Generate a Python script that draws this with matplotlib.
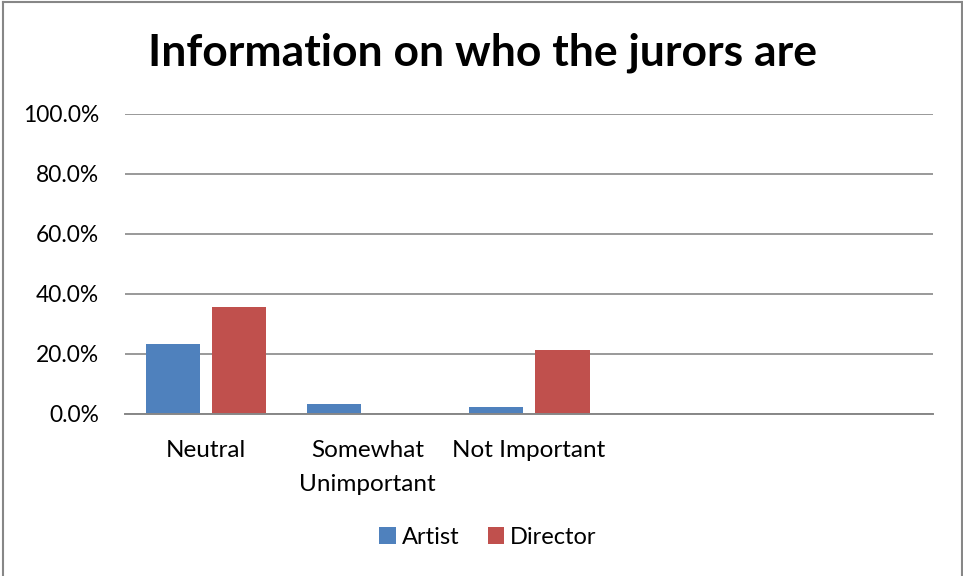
import numpy as np
import matplotlib
matplotlib.use("Agg")
import matplotlib.pyplot as plt
from matplotlib.lines import Line2D
from matplotlib.ticker import PercentFormatter

# ======== Data ========
categories = ["Neutral", "Somewhat\nUnimportant", "Not Important", "", ""]
artist = [23.3, 3.3, 2.5, 0, 0]
director = [35.7, 0, 21.4, 0, 0]

BLUE = "#4F81BD"
RED = "#C0504D"
GRID = "#878787"

plt.rcParams["font.family"] = ["Lato", "DejaVu Sans"]

fig = plt.figure(figsize=(9.63, 5.76), dpi=100)
W, H = 963, 576
ax = fig.add_axes([125 / W, (H - 414) / H, (933 - 125) / W, 300 / H])

x = np.arange(len(categories))
width = 0.335
ax.bar(x - 0.205, artist, width, color=BLUE, label="Artist", zorder=3)
ax.bar(x + 0.207, director, width, color=RED, label="Director", zorder=3)

ax.set_xlim(-0.5, len(categories) - 0.5)
ax.set_ylim(0, 100)
ax.set_yticks(np.arange(0, 101, 20))
ax.yaxis.set_major_formatter(PercentFormatter(decimals=1))
ax.set_xticks(x)
ax.set_xticklabels(categories, fontsize=17.5, linespacing=1.72)
ax.tick_params(axis="both", length=0, colors="black")
ax.tick_params(axis="y", labelsize=16.4, pad=18.5)
ax.tick_params(axis="x", pad=19)
ax.grid(axis="y", color=GRID, linewidth=1.2, zorder=0)
for s in ["top", "right", "left"]:
    ax.spines[s].set_visible(False)
ax.spines["bottom"].set_color(GRID)
ax.spines["bottom"].set_linewidth(1.4)
ax.spines["bottom"].set_zorder(4)

fig.text(483 / W, 1 - 53 / H, "Information on who the jurors are",
         ha="center", va="center", fontsize=32, fontweight="bold")

fig.legend(loc="center", bbox_to_anchor=(488 / W, 1 - 537 / H), ncol=2,
           frameon=False, fontsize=17, handlelength=0.7, handleheight=0.7,
           handletextpad=0.25, columnspacing=1.2)

# chart frame
for xs, ys in [([2.5 / W, 2.5 / W], [0, 1 - 1.5 / H]),
               ([2.5 / W, 961.5 / W], [1 - 1.5 / H, 1 - 1.5 / H]),
               ([961.5 / W, 961.5 / W], [0, 1 - 1.5 / H])]:
    fig.add_artist(Line2D(xs, ys, color=GRID, linewidth=1.5))

fig.savefig("out.png", dpi=100, facecolor="white")
